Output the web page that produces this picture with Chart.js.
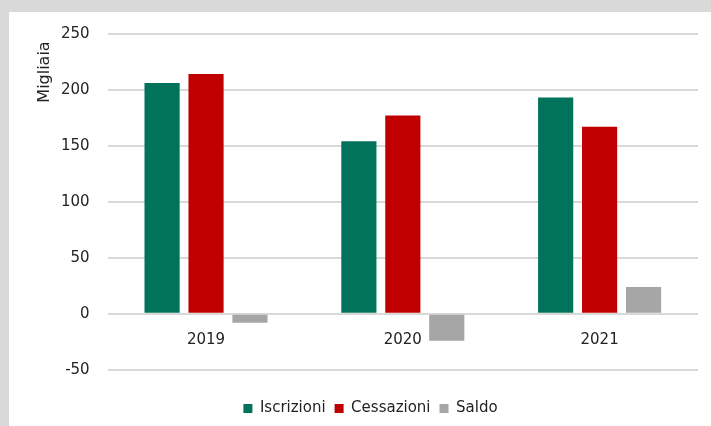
<!DOCTYPE html>
<html>
<head>
<meta charset="utf-8">
<script src="https://cdn.jsdelivr.net/npm/chart.js@4"></script>
<style>
  body { margin: 0; background: #d9d9d9; width: 711px; height: 426px; overflow: hidden; }
  #panel { position: absolute; left: 9px; top: 12px; width: 702px; height: 414px; background: #fff; }
</style>
</head>
<body>
<div id="panel"><canvas id="chart" width="702" height="414"></canvas></div>
<script>
const years = ['2019', '2020', '2021'];
const iscrizioni = [206, 154, 193];
const cessazioni = [214, 177, 167];
const saldo = [-8, -24, 24];
const yTicks = [-50, 0, 50, 100, 150, 200, 250];

const fontFamily = '"DejaVu Sans", Tahoma, sans-serif';

// y axis title sits near the top of the axis, not centered
const yTitle = {
    id: 'yTitle',
    afterDraw(chart) {
        const ctx = chart.ctx;
        ctx.save();
        ctx.translate(36, 60);
        ctx.rotate(-Math.PI / 2);
        ctx.font = '16px ' + fontFamily;
        ctx.fillStyle = '#222';
        ctx.textAlign = 'center';
        ctx.textBaseline = 'middle';
        ctx.fillText('Migliaia', 0, 0);
        ctx.restore();
    }
};

new Chart(document.getElementById('chart'), {
    type: 'bar',
    data: {
        labels: years,
        datasets: [
            { label: 'Iscrizioni', data: iscrizioni, backgroundColor: '#00735a' },
            { label: 'Cessazioni', data: cessazioni, backgroundColor: '#c00000' },
            { label: 'Saldo', data: saldo, backgroundColor: '#a6a6a6' }
        ]
    },
    options: {
        responsive: false,
        animation: false,
        layout: { padding: { left: 34, right: 13, top: 4, bottom: 0 } },
        datasets: { bar: { categoryPercentage: 0.67, barPercentage: 0.8 } },
        scales: {
            x: {
                position: { y: 0 },
                grid: { display: false, drawTicks: false },
                border: { display: false },
                ticks: { color: '#222', font: { family: fontFamily, size: 15 }, padding: 17 }
            },
            y: {
                min: -50,
                max: 250,
                afterBuildTicks: axis => { axis.ticks = yTicks.map(v => ({ value: v })); },
                grid: { color: '#d9d9d9', lineWidth: 2, drawTicks: false },
                border: { display: false },
                ticks: { color: '#222', font: { family: fontFamily, size: 15, lineHeight: 0.5 }, padding: 18 }
            }
        },
        plugins: {
            legend: {
                position: 'bottom',
                title: { display: true, text: ' ', font: { size: 1 }, padding: { top: 21, bottom: 0 } },
                labels: {
                    boxWidth: 9,
                    boxHeight: 9,
                    padding: 9,
                    color: '#222',
                    font: { family: fontFamily, size: 15 }
                }
            },
            tooltip: { enabled: false }
        }
    },
    plugins: [yTitle]
});
</script>
</body>
</html>
